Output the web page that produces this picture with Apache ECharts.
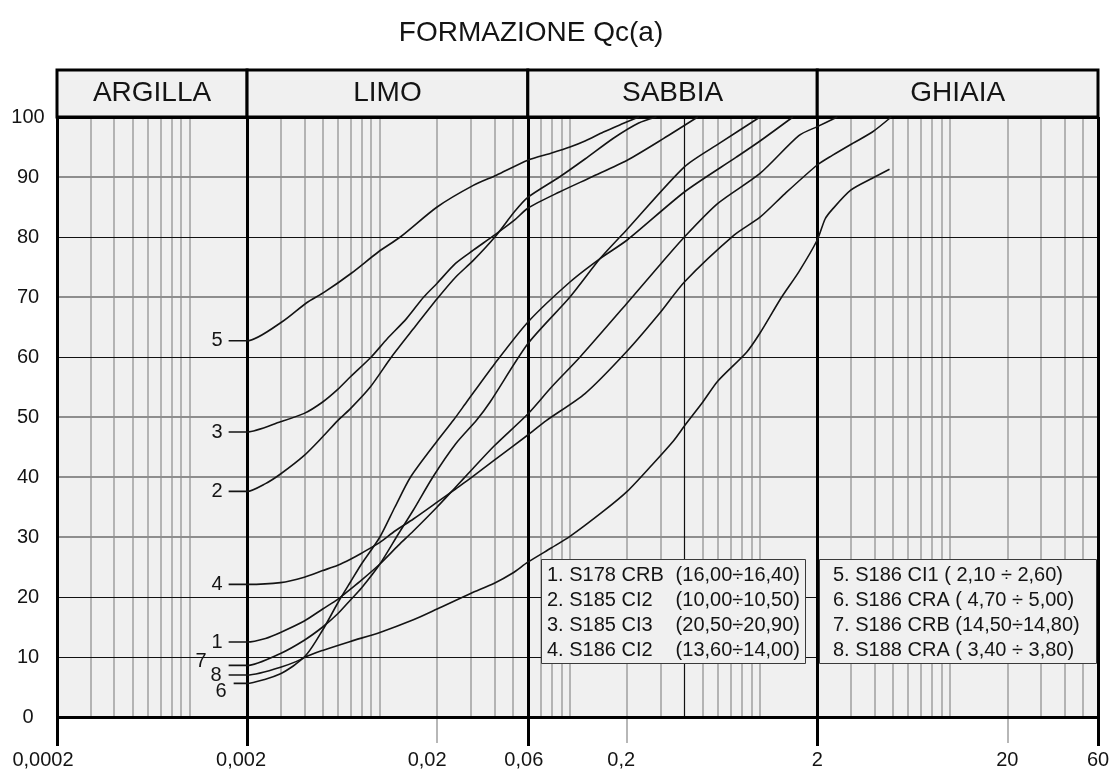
<!DOCTYPE html>
<html>
<head>
<meta charset="utf-8">
<title>FORMAZIONE Qc(a)</title>
<script src="https://cdn.jsdelivr.net/npm/echarts@6/dist/echarts.min.js"></script>
<style>
  html, body { margin: 0; padding: 0; background: #ffffff; }
  #chart { width: 1115px; height: 772px; }
</style>
</head>
<body>
<div id="chart"></div>
<script>
// Grain size distribution curves: diameter (mm) vs cumulative passing (%)
const c1x = [0.0016, 0.002, 0.0025, 0.003, 0.004, 0.005, 0.006, 0.007, 0.008, 0.01, 0.0125, 0.015, 0.02, 0.025, 0.03, 0.04, 0.06, 0.08, 0.113, 0.2, 0.3, 0.4, 0.6, 1.0, 1.6, 2.0, 2.55];
const c1y = [12.5, 12.5, 13.1, 14.1, 16, 18, 19.6, 21.3, 22.8, 25.5, 28.6, 31, 35, 38.3, 41, 45.2, 50.5, 55, 60, 69, 75.5, 80, 85.6, 90.6, 96.9, 98.4, 100];

const c2x = [0.0016, 0.002, 0.0025, 0.003, 0.004, 0.005, 0.006, 0.007, 0.0089, 0.0115, 0.015, 0.02, 0.025, 0.031, 0.041, 0.051, 0.06, 0.088, 0.12, 0.17, 0.23, 0.285];
const c2y = [37.6, 37.6, 38.9, 40.5, 43.6, 46.7, 49.4, 51.4, 55, 60, 64.7, 69.7, 73.3, 76.1, 80.3, 84.2, 86.6, 90, 93, 96.5, 99, 100];

const c3x = [0.0016, 0.002, 0.003, 0.004, 0.005, 0.006, 0.007, 0.009, 0.0109, 0.0138, 0.017, 0.02, 0.025, 0.031, 0.04, 0.051, 0.06, 0.088, 0.13, 0.2, 0.31, 0.47];
const c3y = [47.5, 47.5, 49.2, 50.6, 52.5, 54.6, 56.7, 60, 63, 66.4, 70, 72.3, 75.6, 77.8, 80.3, 82.8, 84.8, 87.5, 90, 92.8, 96.4, 100];

const c4x = [0.0016, 0.002, 0.003, 0.004, 0.005, 0.006, 0.007, 0.008, 0.01, 0.012, 0.015, 0.02, 0.025, 0.03, 0.04, 0.06, 0.075, 0.12, 0.2, 0.3, 0.4, 0.73, 1.0, 1.35, 2.0, 2.4, 3.07, 3.9, 4.9];
const c4y = [22.1, 22.1, 22.4, 23.3, 24.4, 25.3, 26.3, 27.3, 29.1, 31, 33, 35.8, 38, 39.8, 42.8, 47, 49.4, 53.9, 61, 67.5, 72.5, 80.3, 83.3, 87.2, 92, 93.6, 95.6, 97.5, 100];

const c5x = [0.0016, 0.002, 0.0031, 0.0041, 0.0051, 0.0071, 0.0098, 0.0128, 0.02, 0.031, 0.041, 0.06, 0.08, 0.1, 0.12, 0.15, 0.19, 0.23];
const c5y = [62.7, 62.7, 66, 69, 70.8, 74, 77.5, 80, 85, 88.6, 90.3, 92.8, 94, 95, 96, 97.5, 98.9, 100];

const c6x = [0.0017, 0.002, 0.0025, 0.003, 0.0035, 0.004, 0.005, 0.007, 0.01, 0.015, 0.02, 0.03, 0.04, 0.05, 0.06, 0.08, 0.1, 0.15, 0.2, 0.27, 0.35, 0.4, 0.5, 0.6, 0.85, 1.0, 1.3, 1.6, 2.0, 2.2, 2.4, 3.0, 3.9, 4.8];
const c6y = [5.6, 5.6, 6.3, 7.2, 8.5, 9.9, 11.1, 12.6, 14.1, 16.2, 18, 20.6, 22.3, 24, 25.8, 28.2, 30.1, 34.3, 37.6, 42, 46, 48.5, 52.5, 56, 60.8, 64, 70, 74.2, 79.5, 83, 84.6, 87.8, 89.8, 91.3];

const c7x = [0.0016, 0.002, 0.003, 0.004, 0.005, 0.006, 0.007, 0.008, 0.01, 0.0125, 0.015, 0.019, 0.025, 0.0323, 0.038, 0.06, 0.1, 0.144, 0.2, 0.4, 0.61, 1.0];
const c7y = [8.6, 8.6, 10.6, 12.8, 15, 17.2, 19.5, 21.5, 25.5, 30.5, 34.5, 40, 45.5, 49.5, 52.5, 62.2, 70, 76.4, 81.3, 91.7, 95.6, 100];

const c8x = [0.0016, 0.002, 0.003, 0.004, 0.005, 0.006, 0.007, 0.008, 0.01, 0.012, 0.0145, 0.02, 0.0244, 0.0286, 0.04, 0.06, 0.1, 0.144, 0.2, 0.4, 0.75, 1.0, 1.49];
const c8y = [7, 7, 8.3, 10, 14.5, 19, 22.5, 25.5, 30, 35, 40, 46, 49.5, 52.5, 58.8, 65.8, 72.5, 76.4, 79.5, 87.5, 93.3, 96, 100];

const curveNames = ['1', '2', '3', '4', '5', '6', '7', '8'];
const curveX = [c1x, c2x, c3x, c4x, c5x, c6x, c7x, c8x];
const curveY = [c1y, c2y, c3y, c4y, c5y, c6y, c7y, c8y];

// Sample descriptions
const legendLeftNames = ['1. S178 CRB', '2. S185 CI2', '3. S185 CI3', '4. S186 CI2'];
const legendLeftDepths = ['(16,00÷16,40)', '(10,00÷10,50)', '(20,50÷20,90)', '(13,60÷14,00)'];
const legendRightRows = ['5. S186 CI1 ( 2,10 ÷ 2,60)', '6. S186 CRA ( 4,70 ÷ 5,00)', '7. S186 CRB (14,50÷14,80)', '8. S188 CRA ( 3,40 ÷ 3,80)'];

// Soil classes and their limits (mm)
const zoneNames = ['ARGILLA', 'LIMO', 'SABBIA', 'GHIAIA'];
const zoneBounds = [0.0002, 0.002, 0.06, 2, 60];

// Axis ticks
const xTickValues = [0.0002, 0.002, 0.02, 0.06, 0.2, 2, 20, 60];
const xTickLabels = ['0,0002', '0,002', '0,02', '0,06', '0,2', '2', '20', '60'];
const xThinTicks = [0.02, 0.2, 20];
const yGrayLines = [30, 40, 50, 70, 90];
const yDarkLines = [10, 20, 60, 80];
const xDarkLines = [0.4];

const FONT = '"Liberation Sans", Arial, Helvetica, sans-serif';
const INK = '#141414';

// log-paper verticals: k * 10^n between the chart limits
const minorX = [];
[0.0001, 0.001, 0.01, 0.1, 1, 10].forEach(function (d) {
  for (let k = 1; k <= 9; k++) {
    const v = +(k * d).toPrecision(6);
    if (v > zoneBounds[0] && v < zoneBounds[zoneBounds.length - 1] &&
        zoneBounds.indexOf(v) < 0 && xDarkLines.indexOf(v) < 0) minorX.push(v);
  }
});

function tickLabel(v) {
  for (let i = 0; i < xTickValues.length; i++) {
    if (Math.abs(Math.log10(xTickValues[i] / v)) < 1e-6) return '{t' + i + '|' + xTickLabels[i] + '}';
  }
  return '';
}

// labels that sit slightly left of their tick
const tickRich = {};
const tickShift = [14, 6, 10, 4, 6, 0, 0, 0];
tickShift.forEach(function (s, i) {
  tickRich['t' + i] = { fontSize: 20, fontFamily: FONT, color: INK, padding: [0, 2 * s, 0, 0] };
});

const labelTweaks = {
  '6': { distance: 7, offset: [0, 8] },
  '7': { distance: 22, offset: [0, -4] },
  '8': { distance: 7, offset: [0, 0] }
};

const curveSeries = curveNames.map(function (name, ci) {
  const xs = curveX[ci], ys = curveY[ci];
  const tw = labelTweaks[name] || { distance: 6, offset: [0, 0] };
  return {
    type: 'line',
    name: name,
    xAxisIndex: 0,
    yAxisIndex: 0,
    z: 4,
    silent: true,
    symbol: 'circle',
    symbolSize: 0,
    showSymbol: true,
    smooth: 0.25,
    lineStyle: { color: INK, width: 1.6 },
    itemStyle: { color: INK },
    label: { show: false },
    data: xs.map(function (x, i) {
      if (i === 0) {
        return {
          value: [x, ys[i]],
          label: {
            show: true, formatter: name, position: 'left',
            distance: tw.distance, offset: tw.offset,
            fontSize: 20, fontFamily: FONT, color: INK
          }
        };
      }
      return [x, ys[i]];
    })
  };
});

const gridLineData = []
  .concat(minorX.map(function (v) { return { xAxis: v, lineStyle: { color: '#a4a4a4', width: 1.6, type: 'solid' } }; }))
  .concat(yGrayLines.map(function (v) { return { yAxis: v, lineStyle: { color: '#8e8e8e', width: 2, type: 'solid' } }; }))
  .concat(yDarkLines.map(function (v) { return { yAxis: v, lineStyle: { color: '#111', width: 1.2, type: 'solid' } }; }))
  .concat(xDarkLines.map(function (v) { return { xAxis: v, lineStyle: { color: '#111', width: 1.2, type: 'solid' } }; }));

const frameLineData = []
  .concat(zoneBounds.map(function (v) { return { xAxis: v }; }))
  .concat([{ yAxis: 0 }, { yAxis: 100 }]);

const chart = echarts.init(document.getElementById('chart'), null, { renderer: 'canvas' });

const option = {
  animation: false,
  backgroundColor: '#ffffff',
  textStyle: { fontFamily: FONT },
  grid: [
    { left: 57, right: 17, top: 117, bottom: 55, show: true, backgroundColor: '#f0f0f0', borderWidth: 0 },
    { left: 57, right: 17, top: 70, height: 47, show: true, backgroundColor: '#f0f0f0', borderWidth: 0 }
  ],
  xAxis: [
    {
      type: 'log', logBase: 10, gridIndex: 0, position: 'bottom',
      min: zoneBounds[0], max: zoneBounds[zoneBounds.length - 1],
      axisLine: { show: false },
      splitLine: { show: false },
      minorTick: { show: false },
      axisTick: { show: true, customValues: zoneBounds, length: 29, lineStyle: { color: '#000', width: 3 } },
      axisLabel: { show: true, customValues: xTickValues, formatter: tickLabel, margin: 33, rich: tickRich, fontSize: 20, color: INK }
    },
    {
      type: 'log', logBase: 10, gridIndex: 0, position: 'bottom',
      min: zoneBounds[0], max: zoneBounds[zoneBounds.length - 1],
      axisLine: { show: false },
      splitLine: { show: false },
      axisLabel: { show: false },
      axisTick: { show: true, customValues: xThinTicks, length: 26, lineStyle: { color: '#a0a0a0', width: 1.5 } }
    },
    {
      type: 'log', logBase: 10, gridIndex: 1,
      min: zoneBounds[0], max: zoneBounds[zoneBounds.length - 1],
      show: false
    }
  ],
  yAxis: [
    {
      type: 'value', gridIndex: 0, min: 0, max: 100, interval: 10,
      axisLine: { show: false }, axisTick: { show: false }, splitLine: { show: false },
      axisLabel: { fontSize: 20, color: INK, align: 'center', margin: 29, fontFamily: FONT }
    },
    { type: 'value', gridIndex: 1, min: 0, max: 1, show: false }
  ],
  series: [
    {
      type: 'line', xAxisIndex: 0, yAxisIndex: 0, data: [], z: 1, silent: true,
      markLine: {
        z: 1, precision: 8,
        silent: true, symbol: ['none', 'none'], animation: false,
        label: { show: false },
        lineStyle: { type: 'solid' },
        emphasis: { disabled: true },
        data: gridLineData
      }
    },
    {
      type: 'line', xAxisIndex: 0, yAxisIndex: 0, data: [], z: 3, silent: true,
      markLine: {
        z: 3, precision: 8,
        silent: true, symbol: ['none', 'none'], animation: false,
        label: { show: false },
        lineStyle: { type: 'solid', color: '#000', width: 3 },
        emphasis: { disabled: true },
        data: frameLineData
      }
    },
    {
      type: 'line', xAxisIndex: 2, yAxisIndex: 1, data: [], z: 3, silent: true,
      markArea: {
        z: 3,
        silent: true,
        itemStyle: { color: '#f0f0f0', borderColor: '#000', borderWidth: 3 },
        label: { show: true, position: 'inside', fontSize: 28, color: INK, fontFamily: FONT },
        emphasis: { disabled: true },
        data: zoneNames.map(function (z, i) {
          return [{ name: z, xAxis: zoneBounds[i] }, { xAxis: zoneBounds[i + 1] }];
        })
      }
    }
  ].concat(curveSeries),
  graphic: [
    {
      type: 'text', x: 531, y: 33, z: 10,
      style: { text: 'FORMAZIONE Qc(a)', font: '28px ' + FONT, fill: INK, align: 'center', verticalAlign: 'middle' }
    },
    {
      type: 'rect', z: 2, shape: { x: 541.5, y: 559.5, width: 264, height: 104 },
      style: { fill: '#f0f0f0', stroke: '#3a3a3a', lineWidth: 1 }
    },
    {
      type: 'rect', z: 2, shape: { x: 819.5, y: 559.5, width: 277, height: 104 },
      style: { fill: '#f0f0f0', stroke: '#3a3a3a', lineWidth: 1 }
    }
  ]
    .concat(legendLeftNames.map(function (t, i) {
      return { type: 'text', z: 2.5, x: 547, y: 575 + i * 25.3,
        style: { text: t, font: '20px ' + FONT, fill: INK, align: 'left', verticalAlign: 'middle' } };
    }))
    .concat(legendLeftDepths.map(function (t, i) {
      return { type: 'text', z: 2.5, x: 800, y: 575 + i * 25.3,
        style: { text: t, font: '20px ' + FONT, fill: INK, align: 'right', verticalAlign: 'middle' } };
    }))
    .concat(legendRightRows.map(function (t, i) {
      return { type: 'text', z: 2.5, x: 833, y: 575 + i * 25.3,
        style: { text: t, font: '20px ' + FONT, fill: INK, align: 'left', verticalAlign: 'middle' } };
    }))
};

chart.setOption(option);
</script>
</body>
</html>
